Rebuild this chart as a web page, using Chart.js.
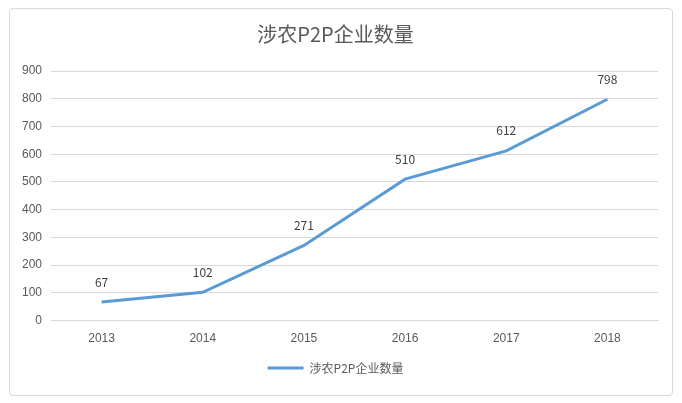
<html>
  <head>
    <script src="https://cdn.jsdelivr.net/npm/chart.js@4.4.0/dist/chart.umd.min.js"></script>
    <style>
      body { margin: 0; background: #fff; }
      #box {
        position: absolute; left: 9px; top: 8px; width: 662px; height: 386px;
        border: 1px solid #d9d9d9; border-radius: 4px;
      }
    </style>
  </head>
  <body>
    <div id="box"><canvas id="farmChart"></canvas></div>
    <script>
      var years = ["2013", "2014", "2015", "2016", "2017", "2018"];
      var counts = [67, 102, 271, 510, 612, 798];
      var seriesName = "涉农P2P企业数量";

      var pointLabels = {
        id: "pointLabels",
        afterDatasetsDraw(chart) {
          var ctx = chart.ctx;
          var meta = chart.getDatasetMeta(0);
          ctx.save();
          ctx.font = "12px 'Noto Sans CJK SC', sans-serif";
          ctx.fillStyle = "#404040";
          ctx.textAlign = "center";
          ctx.textBaseline = "bottom";
          meta.data.forEach((pt, i) => {
            ctx.fillText(counts[i], pt.x, pt.y - 14);
          });
          ctx.restore();
        },
      };

      var ctx = document.getElementById("farmChart").getContext("2d");
      new Chart(ctx, {
        type: "line",
        data: {
          labels: years,
          datasets: [
            {
              label: seriesName,
              data: counts,
              borderColor: "#5b9bd5",
              backgroundColor: "#5b9bd5",
              borderWidth: 3,
              pointRadius: 0,
              pointStyle: "line",
              tension: 0,
              fill: false,
            },
          ],
        },
        options: {
          responsive: true,
          maintainAspectRatio: false,
          animation: false,
          layout: { padding: { left: 3, right: 14, top: 4, bottom: 11 } },
          plugins: {
            title: {
              display: true,
              text: seriesName,
              color: "#595959",
              font: { size: 20, family: "'Noto Sans CJK SC', sans-serif", weight: "normal" },
              padding: { top: 9, bottom: 25 },
            },
            legend: {
              position: "bottom",
              labels: {
                usePointStyle: true,
                pointStyleWidth: 36,
                color: "#595959",
                font: { size: 12, family: "'Noto Sans CJK SC', sans-serif" },
                padding: 13,
              },
            },
            tooltip: { enabled: false },
          },
          scales: {
            x: {
              offset: true,
              grid: { display: false },
              border: { color: "#d9d9d9" },
              ticks: { color: "#595959", font: { size: 12 }, padding: 3 },
            },
            y: {
              min: 0,
              max: 900,
              ticks: { stepSize: 100, color: "#595959", font: { size: 12 }, padding: 9 },
              grid: { color: "#d9d9d9", drawTicks: false },
              border: { display: false },
            },
          },
        },
        plugins: [pointLabels],
      });
    </script>
  </body>
</html>
